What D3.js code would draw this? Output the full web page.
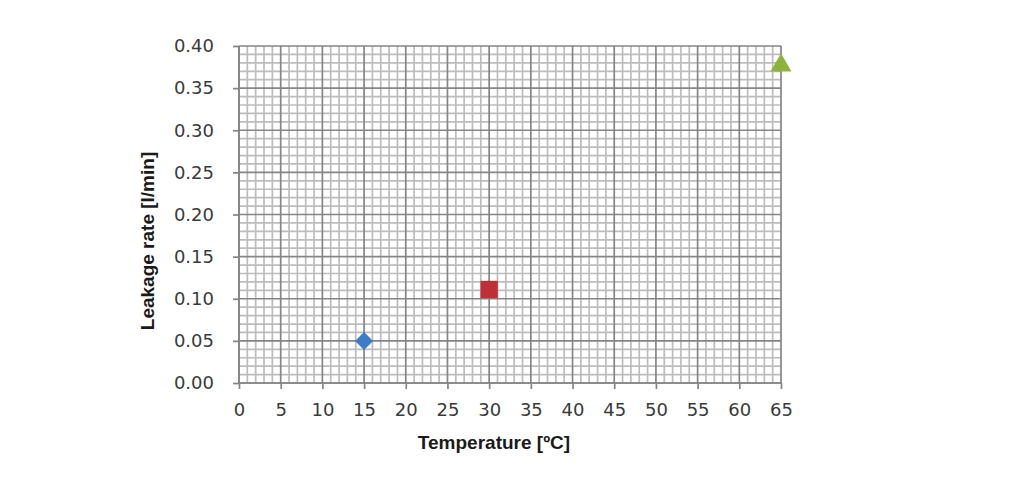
<!DOCTYPE html>
<html><head><meta charset="utf-8">
<script src="https://cdn.jsdelivr.net/npm/d3@7"></script>
<style>body{margin:0;background:#fff}svg{display:block}</style>
</head><body>
<svg id="c" width="1024" height="486"></svg>
<script>
const xTicks = [0,5,10,15,20,25,30,35,40,45,50,55,60,65];
const yTicks = [0,0.05,0.10,0.15,0.20,0.25,0.30,0.35,0.40];
const yTickLabels = ["0.00","0.05","0.10","0.15","0.20","0.25","0.30","0.35","0.40"];
const seriesNames = ["15 °C","30 °C","65 °C"];
const temps = [15, 30, 65];
const leakage = [0.05, 0.111, 0.377];
const shapes = ["diamond","square","triangle"];
const colors = ["#3e7cc8","#be3035","#8cb43c"];

const svg = d3.select("#c");
const L=239, R=781, T=46, B=383;
const x = d3.scaleLinear().domain([0,65]).range([L,R]);
const y = d3.scaleLinear().domain([0,0.40]).range([B,T]);

const g = svg.append("g");
const xMinor = d3.range(0,66,1).filter(v=>v%5!==0);
const yMinor = d3.range(0,41,1).filter(v=>v%5!==0).map(v=>v/100);
g.selectAll(".vx").data(xMinor).join("line")
 .attr("x1",d=>x(d)).attr("x2",d=>x(d)).attr("y1",T).attr("y2",B)
 .attr("stroke","#bcbcbc").attr("stroke-width",1.7);
g.selectAll(".hy").data(yMinor).join("line")
 .attr("y1",d=>y(d)).attr("y2",d=>y(d)).attr("x1",L).attr("x2",R)
 .attr("stroke","#bcbcbc").attr("stroke-width",1.7);
g.selectAll(".mx").data(xTicks).join("line")
 .attr("x1",d=>x(d)).attr("x2",d=>x(d)).attr("y1",T).attr("y2",B)
 .attr("stroke","#858585").attr("stroke-width",1.7);
g.selectAll(".my").data(yTicks).join("line")
 .attr("y1",d=>y(d)).attr("y2",d=>y(d)).attr("x1",L).attr("x2",R)
 .attr("stroke","#858585").attr("stroke-width",1.7);

const xAxis = d3.axisBottom(x).tickValues(xTicks).tickSize(6).tickPadding(14);
const yAxis = d3.axisLeft(y).tickValues(yTicks).tickSize(6).tickPadding(19)
  .tickFormat((d,i)=>yTickLabels[i]);
const font = "'DejaVu Sans', Verdana, sans-serif";
const ax = svg.append("g").attr("transform",`translate(0,${B})`).call(xAxis);
const ay = svg.append("g").attr("transform",`translate(${L},0)`).call(yAxis);
[ax,ay].forEach(a=>{
  a.select(".domain").attr("stroke","#858585").attr("stroke-width",1.7);
  a.selectAll(".tick line").attr("stroke","#858585").attr("stroke-width",1.7);
  a.selectAll("text").attr("fill","#3a3a3a").style("font-family",font).style("font-size","18px");
});
ax.select(".domain").attr("d",`M${L},0H${R}`);
ay.select(".domain").attr("d",`M0,${B}V${T}`);

const sym = {square:d3.symbolSquare, triangle:d3.symbolTriangle};
const sizes = {square:300, triangle:190};
function shapePath(s){
  if(s==="diamond"){ const r=9; return `M0,${-r}L${r},0L0,${r}L${-r},0Z`; }
  return d3.symbol().type(sym[s]).size(sizes[s])();
}
svg.selectAll(".pt").data(temps).join("path")
 .attr("transform",(d,i)=>`translate(${x(d)},${y(leakage[i])})`)
 .attr("d",(d,i)=>shapePath(shapes[i]))
 .attr("fill",(d,i)=>colors[i]);

const tfont="'Liberation Sans', Arial, sans-serif";
svg.append("text").attr("x",494).attr("y",449).attr("text-anchor","middle")
 .style("font-family",tfont).style("font-weight","bold").style("font-size","19px")
 .attr("fill","#1a1a1a").text("Temperature [ºC]");
svg.append("text").attr("transform",`translate(154,241) rotate(-90)`).attr("text-anchor","middle")
 .style("font-family",tfont).style("font-weight","bold").style("font-size","19px")
 .attr("fill","#1a1a1a").text("Leakage rate [l/min]");
</script>
</body></html>
